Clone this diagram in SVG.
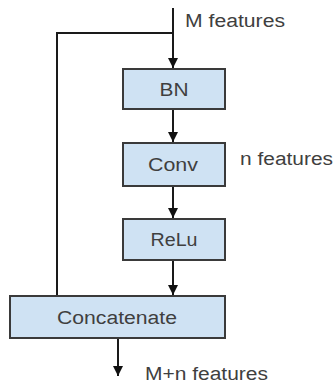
<svg xmlns="http://www.w3.org/2000/svg" width="334" height="383" viewBox="0 0 334 383">
<style>
.box{fill:#cfe2f3;stroke:#3a3a3a;stroke-width:2}
.lbl{font-family:"Liberation Sans",Arial,sans-serif;font-size:18px;fill:#3f3f3f;text-anchor:middle}
.note{font-family:"Liberation Sans",Arial,sans-serif;font-size:18px;fill:#3f3f3f}
.edge{stroke:#1a1a1a;stroke-width:2;fill:none}
</style>
<defs>
<marker id="ah" viewBox="0 0 10 10" refX="10" refY="5" markerWidth="5" markerHeight="5" orient="auto" markerUnits="strokeWidth">
<path d="M0,0 L10,5 L0,10 z" fill="#111"/>
</marker>
</defs>
<rect width="334" height="383" fill="#fff"/>
<g id="connectors">
<path class="edge" d="M173,8 L173,68" marker-end="url(#ah)"/>
<path class="edge" d="M173,33 L57,33 L57,296"/>
<path class="edge" d="M173,109 L173,142" marker-end="url(#ah)"/>
<path class="edge" d="M173,186 L173,218" marker-end="url(#ah)"/>
<path class="edge" d="M173,260 L173,295" marker-end="url(#ah)"/>
<path class="edge" d="M118,338 L118,376" marker-end="url(#ah)"/>
</g>
<g id="bn">
<rect class="box" x="123" y="69" width="102" height="40"/>
<text class="lbl" x="174" y="96" textLength="29" lengthAdjust="spacingAndGlyphs">BN</text>
</g>
<g id="conv">
<rect class="box" x="123" y="143" width="102" height="43"/>
<text class="lbl" x="173" y="171" textLength="50" lengthAdjust="spacingAndGlyphs">Conv</text>
</g>
<g id="relu">
<rect class="box" x="123" y="219" width="102" height="41"/>
<text class="lbl" x="174" y="246" textLength="47" lengthAdjust="spacingAndGlyphs">ReLu</text>
</g>
<g id="concatenate">
<rect class="box" x="10" y="296" width="215" height="42"/>
<text class="lbl" x="117" y="324" textLength="120" lengthAdjust="spacingAndGlyphs">Concatenate</text>
</g>
<g id="labels">
<text class="note" x="185" y="27" textLength="100" lengthAdjust="spacingAndGlyphs">M features</text>
<text class="note" x="240" y="165" textLength="93" lengthAdjust="spacingAndGlyphs">n features</text>
<text class="note" x="145" y="380" textLength="123" lengthAdjust="spacingAndGlyphs">M+n features</text>
</g>
</svg>
